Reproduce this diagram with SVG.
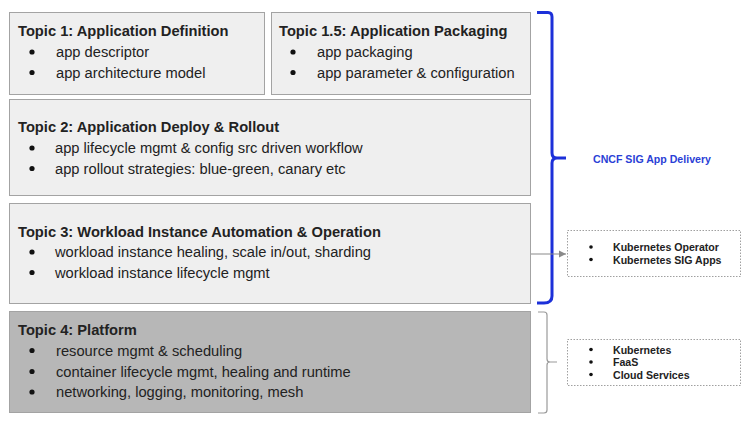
<svg xmlns="http://www.w3.org/2000/svg" width="751" height="424" viewBox="0 0 751 424">
<style>
  .box{fill:#efefef;stroke:#a3a3a3;stroke-width:1}
  .box4{fill:#b7b7b7;stroke:#a3a3a3;stroke-width:1}
  .dash{fill:#ffffff;stroke:#a0a0a0;stroke-width:1;stroke-dasharray:1.5 1.5}
  .t{font-family:"Liberation Sans",Arial,sans-serif;font-size:14.7px;font-weight:bold;fill:#222}
  .i{font-family:"Liberation Sans",Arial,sans-serif;font-size:14.7px;fill:#222}
  .s{font-family:"Liberation Sans",Arial,sans-serif;font-size:10.6px;font-weight:bold;fill:#222}
  .b{fill:#111}
  .lbl{font-family:"Liberation Sans",Arial,sans-serif;font-size:10.6px;font-weight:bold;fill:#2a3fd6}
</style>
<defs>
  <marker id="ah" markerWidth="8" markerHeight="8" refX="7" refY="4" orient="auto" markerUnits="userSpaceOnUse">
    <path d="M0,0.5 L7,4 L0,7.5 Z" fill="#8a8a8a"/>
  </marker>
</defs>
<rect width="751" height="424" fill="#ffffff"/>

<g id="topic1">
  <rect class="box" x="9.5" y="12.5" width="255" height="82"/>
  <text class="t" x="18" y="36">Topic 1: Application Definition</text>
  <circle class="b" cx="32" cy="52" r="2.6"/>
  <text class="i" x="56" y="57">app descriptor</text>
  <circle class="b" cx="32" cy="72.5" r="2.6"/>
  <text class="i" x="56" y="77.5">app architecture model</text>
</g>

<g id="topic15">
  <rect class="box" x="271.5" y="12.5" width="259" height="82"/>
  <text class="t" x="279" y="36">Topic 1.5: Application Packaging</text>
  <circle class="b" cx="293" cy="52" r="2.6"/>
  <text class="i" x="317" y="57">app packaging</text>
  <circle class="b" cx="293" cy="72.5" r="2.6"/>
  <text class="i" x="317" y="77.5">app parameter &amp; configuration</text>
</g>

<g id="topic2">
  <rect class="box" x="9.5" y="99.5" width="521" height="96"/>
  <text class="t" x="18" y="132">Topic 2: Application Deploy &amp; Rollout</text>
  <circle class="b" cx="32" cy="148" r="2.6"/>
  <text class="i" x="55" y="153">app lifecycle mgmt &amp; config src driven workflow</text>
  <circle class="b" cx="32" cy="168.5" r="2.6"/>
  <text class="i" x="55" y="173.5">app rollout strategies: blue-green, canary etc</text>
</g>

<g id="topic3">
  <rect class="box" x="9.5" y="203.5" width="521" height="100"/>
  <text class="t" x="18" y="237">Topic 3: Workload Instance Automation &amp; Operation</text>
  <circle class="b" cx="32" cy="252" r="2.6"/>
  <text class="i" x="55" y="257">workload instance healing, scale in/out, sharding</text>
  <circle class="b" cx="32" cy="272.5" r="2.6"/>
  <text class="i" x="55" y="277.5">workload instance lifecycle mgmt</text>
</g>

<g id="topic4">
  <rect class="box4" x="9.5" y="311.5" width="521" height="101"/>
  <text class="t" x="18" y="335">Topic 4: Platform</text>
  <circle class="b" cx="32" cy="350.5" r="2.6"/>
  <text class="i" x="56" y="355.5">resource mgmt &amp; scheduling</text>
  <circle class="b" cx="32" cy="371.5" r="2.6"/>
  <text class="i" x="56" y="376.5">container lifecycle mgmt, healing and runtime</text>
  <circle class="b" cx="32" cy="392" r="2.6"/>
  <text class="i" x="56" y="397">networking, logging, monitoring, mesh</text>
</g>

<g id="sig-app-delivery">
  <text class="lbl" x="593" y="163">CNCF SIG App Delivery</text>
</g>

<g id="sig-apps">
  <rect class="dash" x="567.5" y="230.5" width="173" height="46"/>
  <circle class="b" cx="591" cy="247" r="1.8"/>
  <text class="s" x="613" y="251">Kubernetes Operator</text>
  <circle class="b" cx="591" cy="259.5" r="1.8"/>
  <text class="s" x="613" y="263.5">Kubernetes SIG Apps</text>
</g>

<g id="platforms">
  <rect class="dash" x="567.5" y="339.5" width="173" height="46"/>
  <circle class="b" cx="591" cy="349.5" r="1.8"/>
  <text class="s" x="613" y="353.5">Kubernetes</text>
  <circle class="b" cx="591" cy="362" r="1.8"/>
  <text class="s" x="613" y="366">FaaS</text>
  <circle class="b" cx="591" cy="374.5" r="1.8"/>
  <text class="s" x="613" y="378.5">Cloud Services</text>
</g>

<g id="connectors">
  <path d="M537,12.5 H548 Q552,12.5 552,17 V153 Q552,158 557,158 H566 M557,158 Q552,158 552,163 V296 Q552,303 544,303 H537" fill="none" stroke="#1c30d9" stroke-width="3" stroke-linejoin="round"/>
  <path d="M538,312 H544 Q547,312 547,315 V359 Q547,362 550,362 H557 M550,362 Q547,362 547,365 V410 Q547,413 544,413 H538" fill="none" stroke="#9a9a9a" stroke-width="1.2"/>
  <line x1="531" y1="254" x2="566" y2="254" stroke="#8a8a8a" stroke-width="1.2" marker-end="url(#ah)"/>
</g>
</svg>
